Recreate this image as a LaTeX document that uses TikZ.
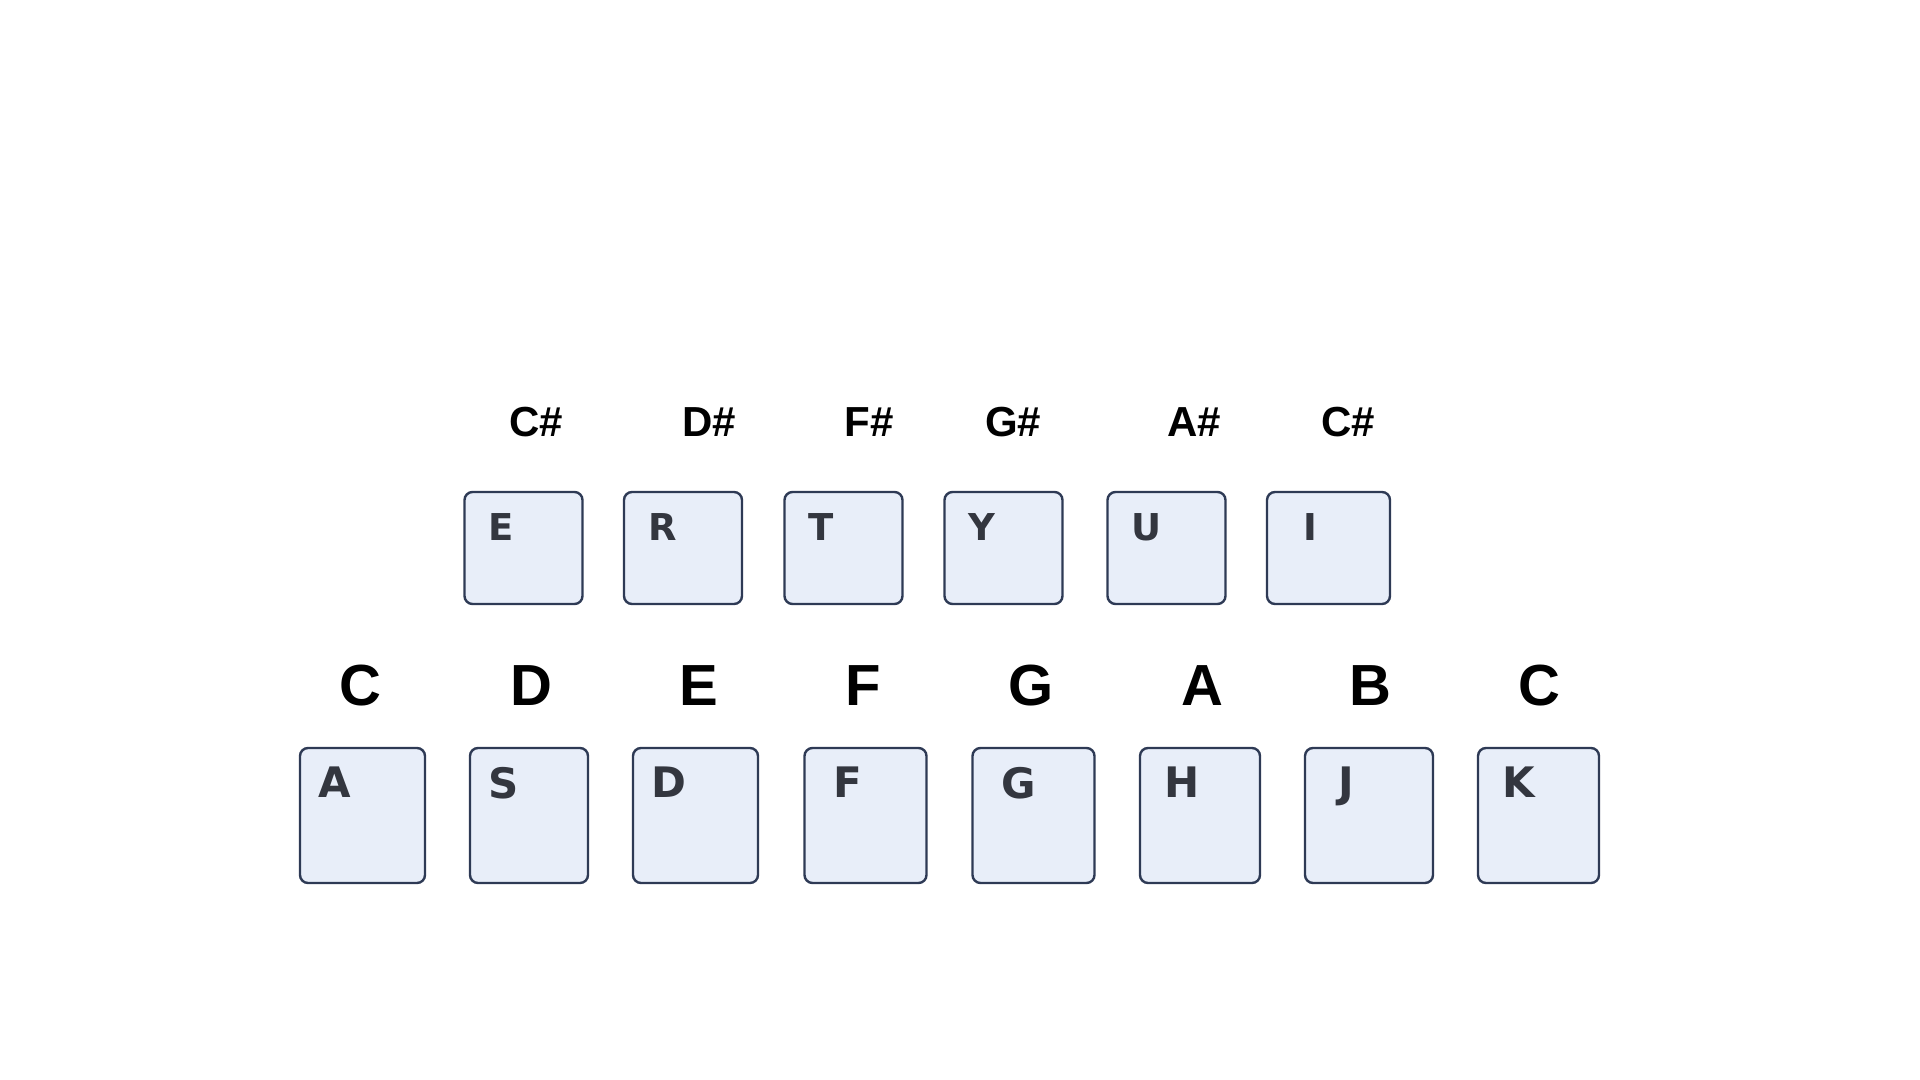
\documentclass[tikz,border=0pt]{standalone}
\usepackage{fontspec}
\newfontfamily\notefont{Liberation Sans}
\newfontfamily\capfont{DejaVu Sans}
\definecolor{keyfill}{HTML}{E8EEF9}
\definecolor{keyedge}{HTML}{2E3A55}
\definecolor{capink}{HTML}{33363F}

\begin{document}
\begin{tikzpicture}[
                x=0.5pt, y=-0.5pt, % pixel grid, y pointing down
                key/.style={draw=keyedge, fill=keyfill, line width=1.2pt, rounded corners=4pt,
                    minimum width=59pt, minimum height=56pt, inner sep=0pt},
                bigkey/.style={key, minimum width=61pt, minimum height=67.5pt},
                keycap/.style={font=\capfont\bfseries\fontsize{18.5}{19}\selectfont, text=capink, inner sep=0pt, anchor=north west},
                bigkeycap/.style={keycap, font=\capfont\bfseries\fontsize{21}{21}\selectfont},
                notename/.style={font=\notefont\bfseries\fontsize{21}{21}\selectfont, inner sep=0pt},
                bignotename/.style={font=\notefont\bfseries\fontsize{29}{30}\selectfont, inner sep=0pt}
            ]

            \useasboundingbox (0,0) rectangle (1920,1080);

            % black keys: sharps
            \node[notename] (nCs) at (536,422) {C\#};
            \node[notename] (nDs) at (709,422) {D\#};
            \node[notename] (nFs) at (869,422) {F\#};
            \node[notename] (nGs) at (1013,422) {G\#};
            \node[notename] (nAs) at (1194,422) {A\#};
            \node[notename] (nCs2) at (1348,422) {C\#};

            \node[key] (kE) at (523.5,548) {};
            \node[key] (kR) at (683,548) {};
            \node[key] (kT) at (843.5,548) {};
            \node[key] (kY) at (1003.5,548) {};
            \node[key] (kU) at (1166.5,548) {};
            \node[key, minimum width=61.5pt] (kI) at (1328.5,548) {};

            \node[keycap] (cE) at ([shift={(25,22)}]kE.north west) {E};
            \node[keycap] (cR) at ([shift={(25,22)}]kR.north west) {R};
            \node[keycap] (cT) at ([shift={(25,22)}]kT.north west) {T};
            \node[keycap] (cY) at ([shift={(25,22)}]kY.north west) {Y};
            \node[keycap] (cU) at ([shift={(25,22)}]kU.north west) {U};
            \node[keycap] (cI) at ([shift={(37,22)}]kI.north west) {I};

            % white keys: naturals
            \node[bignotename] (nC) at (360,686) {C};
            \node[bignotename] (nD) at (531,686) {D};
            \node[bignotename] (nE) at (699,686) {E};
            \node[bignotename] (nF) at (863,686) {F};
            \node[bignotename] (nG) at (1031,686) {G};
            \node[bignotename] (nA) at (1202,686) {A};
            \node[bignotename] (nB) at (1370,686) {B};
            \node[bignotename] (nC2) at (1539,686) {C};

            \node[bigkey, minimum width=62.5pt] (kA) at (362.5,815.5) {};
            \node[bigkey, minimum width=59pt] (kS) at (529,815.5) {};
            \node[bigkey, minimum width=62.5pt] (kD) at (695.5,815.5) {};
            \node[bigkey] (kF) at (865.5,815.5) {};
            \node[bigkey] (kG) at (1033.5,815.5) {};
            \node[bigkey, minimum width=60pt] (kH) at (1200,815.5) {};
            \node[bigkey, minimum width=64pt] (kJ) at (1369,815.5) {};
            \node[bigkey, minimum width=60.5pt] (kK) at (1538.5,815.5) {};

            \node[bigkeycap] (cA) at ([shift={(19,20)}]kA.north west) {A};
            \node[bigkeycap] (cS) at ([shift={(19,20)}]kS.north west) {S};
            \node[bigkeycap] (cD) at ([shift={(19,20)}]kD.north west) {D};
            \node[bigkeycap] (cF) at ([shift={(30,20)}]kF.north west) {F};
            \node[bigkeycap] (cG) at ([shift={(30,20)}]kG.north west) {G};
            \node[bigkeycap] (cH) at ([shift={(25,20)}]kH.north west) {H};
            \node[bigkeycap] (cJ) at ([shift={(34,20)}]kJ.north west) {J};
            \node[bigkeycap] (cK) at ([shift={(25,20)}]kK.north west) {K};

        \end{tikzpicture}
\end{document}
